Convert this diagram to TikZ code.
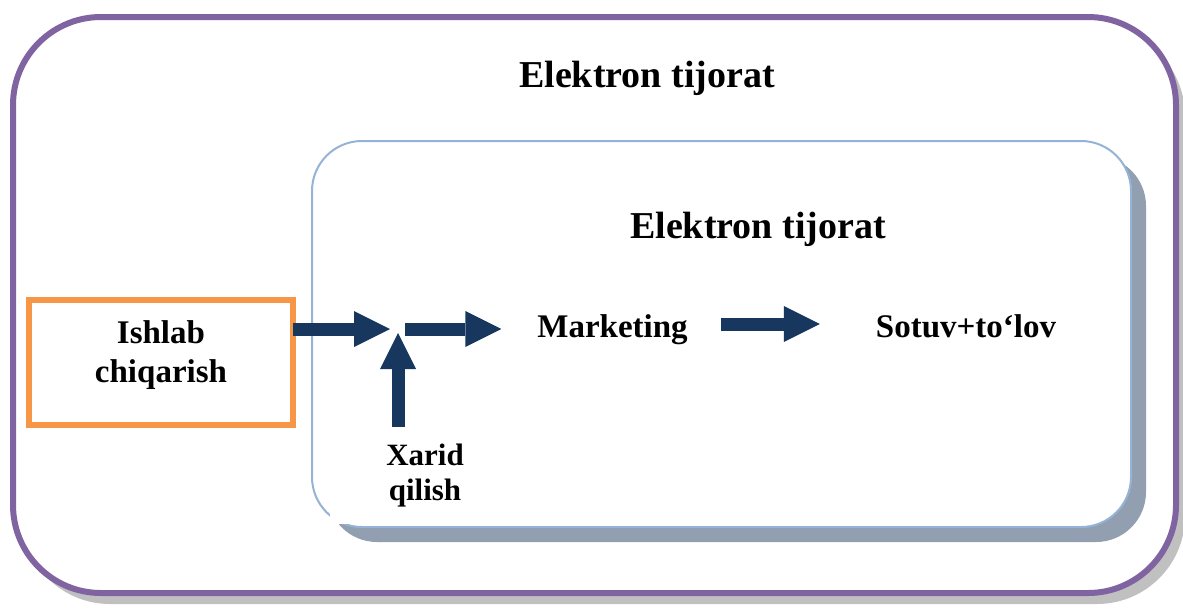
\documentclass[tikz,border=0pt]{standalone}
\usepackage{fontspec}
\setmainfont{Liberation Serif}
\usetikzlibrary{arrows.meta,shadows,calc}

\definecolor{framepurple}{HTML}{8064A2}
\definecolor{outershade}{HTML}{C0C0C0}
\definecolor{innerblue}{HTML}{95B3D7}
\definecolor{innershade}{HTML}{919FB1}
\definecolor{boxorange}{HTML}{F79646}
\definecolor{flownavy}{HTML}{17375E}

\begin{document}
\begin{tikzpicture}[x=1pt,y=-1pt,
  outerframe/.style={draw=framepurple, line width=6pt, fill=white,
    rounded corners=88pt, inner sep=0pt, outer sep=0pt,
    general shadow={fill=outershade, shadow xshift=9pt, shadow yshift=-11pt}},
  innerframe/.style={draw=innerblue, line width=2pt, fill=white,
    rounded corners=50pt, inner sep=0pt, outer sep=0pt,
    general shadow={fill=innershade, shadow xshift=15pt, shadow yshift=-15pt}},
  orangeframe/.style={draw=boxorange, line width=6pt, fill=white,
    inner sep=0pt, outer sep=0pt},
  headtext/.style={font={\bfseries\fontsize{38}{46}\selectfont}, inner sep=0pt},
  steptext/.style={font={\bfseries\fontsize{33}{39}\selectfont}, inner sep=0pt, outer sep=0pt},
  flow/.style={draw=flownavy, line width=13pt,
    -{Triangle[length=36pt,width=36pt,line width=0pt]}}
]
\useasboundingbox (0,0) rectangle (1183,608);

% outer frame and its title
\node[outerframe, minimum width=1163pt, minimum height=576pt] (outer) at (594.5,305) {};
\node[headtext, anchor=base] (outertitle) at (647,87) {Elektron tijorat};

% inner frame and its title
\node[innerframe, minimum width=819pt, minimum height=386pt] (inner) at (721.5,334) {};
\node[headtext, anchor=base] (innertitle) at (758,238) {Elektron tijorat};

% production box
\node[orangeframe, minimum width=264pt, minimum height=125pt] (ishlab) at (160.5,362.5) {};
\node[steptext, align=center] (ishlabtext) at (161,355) {Ishlab\\chiqarish};

% purchasing label on a white patch
\node[steptext, align=center, font={\bfseries\fontsize{31}{35}\selectfont},
      fill=white, minimum width=190pt, minimum height=97pt] (xarid) at (425,475.5) {Xarid\\qilish};

% stages
\node[steptext, text height=30pt, text depth=4pt] (marketing) at (612.5,324) {Marketing};
\node[steptext, text height=30pt, text depth=4pt] (sotuv) at (966,324) {Sotuv+to‘lov};

% junction of the two inputs
\coordinate (J) at (398,329);

% flow arrows
\draw[flow] (ishlab.east |- J) -- ([xshift=-8pt]J);
\draw[flow] ([xshift=7pt]J) -- ($(J -| marketing.west)+(-36pt,0)$);
\draw[flow] (xarid.north -| J) -- ([yshift=-4pt]J);
\draw[flow] ($(marketing.east)+(33pt,0)$) -- ($(sotuv.west)+(-56pt,0)$);
\end{tikzpicture}
\end{document}
